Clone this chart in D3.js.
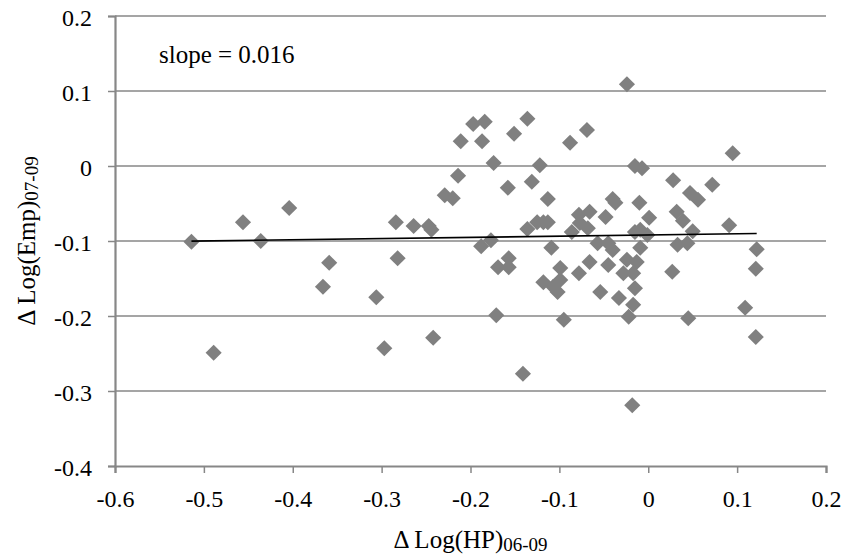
<!DOCTYPE html>
<html>
<head>
<meta charset="utf-8">
<script src="https://cdn.jsdelivr.net/npm/d3@7"></script>
<style>
  body { margin: 0; background: #fff; }
  text { font-family: "Liberation Serif", "Times New Roman", serif; fill: #000; }
</style>
</head>
<body>
<svg id="chart" width="862" height="559"></svg>
<script>
// change in log house prices 06-09 (x) and log employment 07-09 (y)
var hpChange = [
  -0.514, -0.456, -0.436, -0.404, -0.359, -0.366, -0.489, -0.284, -0.264, -0.247,
  -0.244, -0.282, -0.229, -0.220, -0.214, -0.211, -0.197, -0.184, -0.187, -0.174,
  -0.151, -0.136, -0.158, -0.131, -0.122, -0.306, -0.297, -0.242, -0.171, -0.188,
  -0.177, -0.169, -0.157, -0.157, -0.136, -0.024, -0.088, -0.069, -0.015, -0.007,
   0.095, -0.113, -0.040, -0.010,  0.028,  0.047,  0.056,  0.072,  0.001,  0.032,
   0.039,  0.091,  0.050, -0.125, -0.118, -0.113, -0.078, -0.066, -0.086, -0.077,
  -0.068, -0.048, -0.015, -0.009, -0.001, -0.109, -0.057, -0.045, -0.040, -0.009,
   0.033,  0.044,  0.122,  0.121, -0.099, -0.118, -0.107, -0.102, -0.099, -0.078,
  -0.066, -0.045, -0.024, -0.013, -0.028, -0.017, -0.054, -0.033, -0.015, -0.017,
   0.027, -0.022, -0.095,  0.045,  0.109,  0.121, -0.141, -0.018, -0.037
];
var empChange = [
  -0.101, -0.075, -0.100, -0.056, -0.129, -0.161, -0.249, -0.075, -0.080, -0.080,
  -0.085, -0.123, -0.039, -0.043, -0.013,  0.033,  0.056,  0.059,  0.033,  0.004,
   0.043,  0.063, -0.029, -0.021,  0.001, -0.175, -0.243, -0.229, -0.199, -0.107,
  -0.099, -0.135, -0.123, -0.135, -0.084,  0.109,  0.031,  0.048,  0.000, -0.003,
   0.017, -0.044, -0.044, -0.049, -0.019, -0.036, -0.045, -0.025, -0.069, -0.061,
  -0.073, -0.079, -0.087, -0.075, -0.075, -0.075, -0.065, -0.061, -0.088, -0.076,
  -0.083, -0.068, -0.088, -0.085, -0.092, -0.109, -0.103, -0.103, -0.112, -0.109,
  -0.105, -0.103, -0.111, -0.137, -0.136, -0.155, -0.161, -0.168, -0.152, -0.143,
  -0.128, -0.132, -0.125, -0.128, -0.143, -0.143, -0.168, -0.176, -0.163, -0.185,
  -0.141, -0.201, -0.205, -0.203, -0.189, -0.228, -0.277, -0.319, -0.049
];

// fitted line
var slope = 0.016;
var intercept = -0.092;
var fitRange = [-0.514, 0.122];

var xTicks = [-0.6, -0.5, -0.4, -0.3, -0.2, -0.1, 0, 0.1, 0.2];
var yTicks = [0.2, 0.1, 0, -0.1, -0.2, -0.3, -0.4];

var svg = d3.select("#chart");
var plotLeft = 115, plotRight = 826, plotTop = 16, plotBottom = 466;

var x = d3.scaleLinear().domain([-0.6, 0.2]).range([plotLeft, plotRight]);
var y = d3.scaleLinear().domain([-0.4, 0.2]).range([plotBottom, plotTop]);

var grey = "#878787";

// horizontal gridlines
svg.append("g").selectAll("line")
  .data(yTicks.filter(function(d) { return d !== -0.4; }))
  .enter().append("line")
  .attr("x1", plotLeft).attr("x2", plotRight)
  .attr("y1", function(d) { return y(d); })
  .attr("y2", function(d) { return y(d); })
  .attr("stroke", grey)
  .attr("stroke-width", 1.5);

function fmt(d) { return d === 0 ? "0" : String(d); }

var yAxis = svg.append("g")
  .attr("transform", "translate(" + plotLeft + ",0)")
  .call(d3.axisLeft(y).tickValues(yTicks).tickFormat(fmt).tickSize(7).tickPadding(16));
var xAxis = svg.append("g")
  .attr("transform", "translate(0," + plotBottom + ")")
  .call(d3.axisBottom(x).tickValues(xTicks).tickFormat(fmt).tickSize(7).tickPadding(17));

[xAxis, yAxis].forEach(function(a) {
  a.select(".domain").attr("stroke", grey).attr("stroke-width", 2.2);
  a.selectAll(".tick line").attr("stroke", grey).attr("stroke-width", 1.5);
  a.selectAll(".tick text").attr("font-size", 24)
    .attr("font-family", "Liberation Serif, Times New Roman, serif").attr("fill", "#000");
});
yAxis.selectAll(".tick text").attr("dy", "0.4em");

// points
var points = hpChange.map(function(d, i) { return [d, empChange[i]]; });
var diamond = d3.symbol().type(d3.symbolSquare).size(130);
svg.append("g").selectAll("path")
  .data(points)
  .enter().append("path")
  .attr("d", diamond)
  .attr("transform", function(d) {
    return "translate(" + x(d[0]) + "," + y(d[1]) + ") rotate(45)";
  })
  .attr("fill", "#808080");

// trend line
svg.append("line")
  .attr("x1", x(fitRange[0])).attr("y1", y(intercept + slope * fitRange[0]))
  .attr("x2", x(fitRange[1])).attr("y2", y(intercept + slope * fitRange[1]))
  .attr("stroke", "#000")
  .attr("stroke-width", 1.6);

svg.append("text")
  .attr("x", 159).attr("y", 63)
  .attr("font-size", 25)
  .text("slope = " + slope.toFixed(3));

// axis titles
var xt = svg.append("text")
  .attr("x", (plotLeft + plotRight) / 2).attr("y", 548)
  .attr("text-anchor", "middle")
  .attr("font-size", 25);
xt.append("tspan").text("\u0394 Log(HP)");
xt.append("tspan").attr("font-size", 19).attr("dy", 3).text("06-09");

var yt = svg.append("text")
  .attr("transform", "translate(35," + ((plotTop + plotBottom) / 2) + ") rotate(-90)")
  .attr("text-anchor", "middle")
  .attr("font-size", 25);
yt.append("tspan").text("\u0394 Log(Emp)");
yt.append("tspan").attr("font-size", 19).attr("dy", 3).text("07-09");
</script>
</body>
</html>
